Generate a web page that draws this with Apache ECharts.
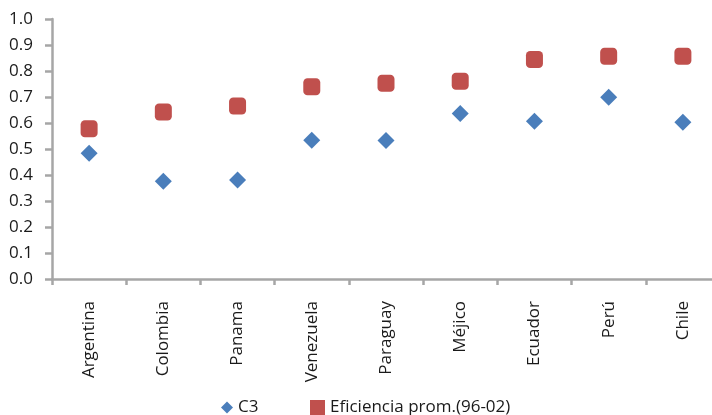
<!DOCTYPE html>
<html>
<head>
<meta charset="utf-8">
<script src="https://cdn.jsdelivr.net/npm/echarts@6/dist/echarts.min.js"></script>
<style>
  html, body { margin: 0; padding: 0; background: #fff; overflow: hidden; }
  #chart { width: 720px; height: 415px; }
</style>
</head>
<body>
<div id="chart"></div>
<script>
const countries = ['Argentina', 'Colombia', 'Panama', 'Venezuela', 'Paraguay', 'Méjico', 'Ecuador', 'Perú', 'Chile'];
const c3 = [0.484, 0.376, 0.381, 0.534, 0.533, 0.637, 0.607, 0.699, 0.603];
const eficiencia = [0.578, 0.642, 0.665, 0.739, 0.753, 0.761, 0.844, 0.857, 0.857];

const font = '"Open Sans", Lato, sans-serif';
const axisGray = '#a6a6a6';
const textColor = '#1a1a1a';

// the plot runs a few px past the right edge of the 712px window, so the div is wider
const chart = echarts.init(document.getElementById('chart'));

const option = {
  animation: false,
  textStyle: { fontFamily: font },
  grid: { left: 52, right: 0, top: 19, bottom: 136, containLabel: false },
  legend: [
    {
      top: 394,
      left: 216,
      itemWidth: 12,
      itemHeight: 12,
      textStyle: { fontSize: 17, color: textColor, fontFamily: font },
      data: [{ name: 'C3', icon: 'diamond' }]
    },
    {
      top: 394,
      left: 305,
      itemWidth: 15,
      itemHeight: 15,
      textStyle: { fontSize: 17, color: textColor, fontFamily: font },
      data: [{ name: 'Eficiencia prom.(96-02)', icon: 'rect' }]
    }
  ],
  xAxis: {
    type: 'category',
    data: countries,
    boundaryGap: true,
    axisLine: { lineStyle: { color: axisGray, width: 2.5 } },
    axisTick: { show: true, length: 6, interval: 0, lineStyle: { color: axisGray, width: 2.5 } },
    axisLabel: { rotate: 90, margin: 22, interval: 0, fontSize: 17, color: textColor, fontFamily: font },
    splitLine: { show: false }
  },
  yAxis: {
    type: 'value',
    min: 0,
    max: 1,
    interval: 0.1,
    axisLine: { show: true, lineStyle: { color: axisGray, width: 2.5 } },
    axisTick: { show: true, length: 7, lineStyle: { color: axisGray, width: 2.5 } },
    axisLabel: { margin: 19, fontSize: 17, color: textColor, fontFamily: font, formatter: v => v.toFixed(1) },
    splitLine: { show: false }
  },
  series: [
    {
      name: 'C3',
      type: 'scatter',
      symbol: 'diamond',
      symbolSize: [17, 17],
      itemStyle: { color: '#4a7ebb', opacity: 1 },
      data: c3
    },
    {
      name: 'Eficiencia prom.(96-02)',
      type: 'scatter',
      symbol: 'roundRect',
      symbolSize: [17, 17],
      itemStyle: { color: '#c0504d', opacity: 1, borderRadius: 2 },
      data: eficiencia
    }
  ]
};

chart.setOption(option);
</script>
</body>
</html>
